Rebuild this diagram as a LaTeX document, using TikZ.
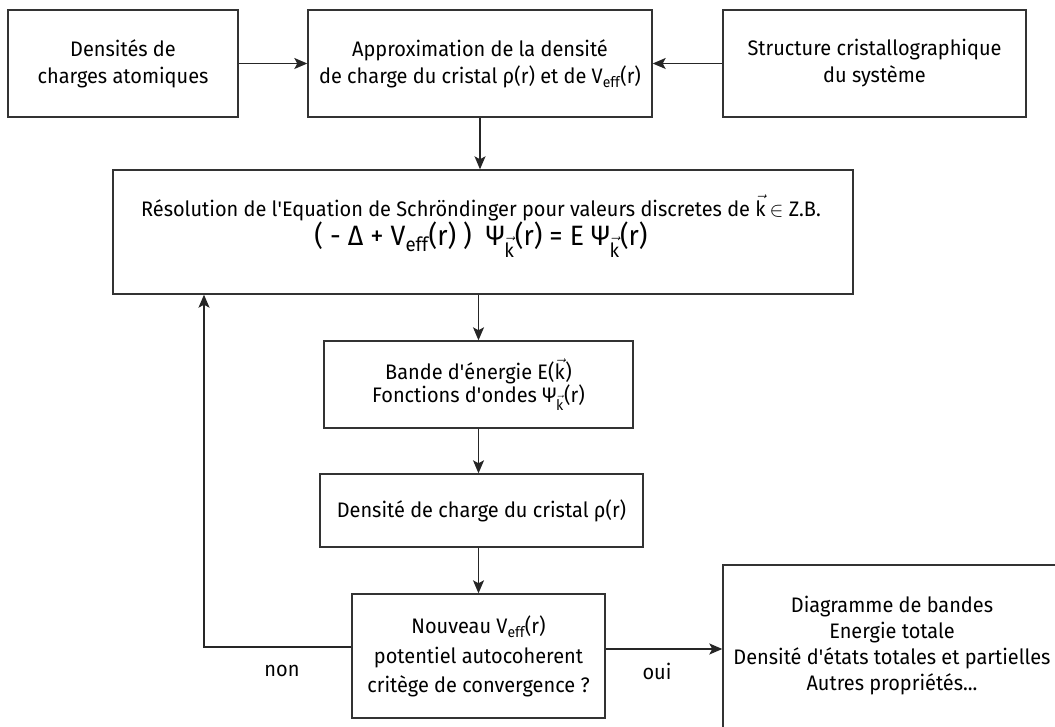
\documentclass[tikz,border=0pt]{standalone}
\usepackage{fontspec}
\setmainfont{Fira Sans}[FakeStretch=0.95]
\usetikzlibrary{arrows.meta}
\newcommand{\veck}{\ensuremath{\vec{\mathrm{k}}}}
\newcommand{\Veff}{V\textsubscript{eff}}
\newcommand{\apo}{\textquotesingle}
\begin{document}
\begin{tikzpicture}[x=1pt,y=-1pt,
  box/.style n args={2}{draw=black!80, line width=1.4pt, minimum width=#1, minimum height=#2, inner sep=0pt, align=center, font=\fontsize{21}{27}\selectfont},
  lbl/.style={font=\fontsize{21}{27}\selectfont, align=center},
  arr/.style={draw=black!85, line width=1.4pt, -{Stealth[length=13pt,width=11pt,inset=3pt]}}]
\useasboundingbox (0,0) rectangle (1055,727);
\node[box={230pt}{107pt}] (dens) at (123,63.5) {Densités de\\charges atomiques};
\node[box={344pt}{107pt}] (approx) at (480,63.5) {Approximation de la densité\\de charge du cristal ρ(r) et de \Veff(r)};
\node[box={303pt}{107pt}] (struct) at (874.5,63.5) {Structure cristallographique\\du système};
\node[box={740pt}{124pt}] (schro) at (483,232) {};
\node[lbl] (schrotext) at (481,226) {Résolution de l\apo Equation de Schröndinger pour valeurs discretes de \veck\,$\in$ Z.B.\\[0pt]
  {\fontsize{28}{31}\selectfont ( - Δ + \Veff(r) )\ \ Ψ\textsubscript{\veck}(r) = E Ψ\textsubscript{\veck}(r)}};
\node[box={309pt}{87pt}] (bande) at (478.5,384.5) {Bande d\apo énergie E(\veck)\\[-4pt]Fonctions d\apo ondes Ψ\textsubscript{\veck}(r)};
\node[box={323pt}{73pt}] (densc) at (481.5,510.5) {Densité de charge du cristal ρ(r)};
\node[box={253pt}{124pt}] (nouv) at (478.5,656) {Nouveau \Veff(r)\\[3pt]potentiel autocoherent\\[2pt]critège de convergence ?};
\node[box={342pt}{180pt}] (res) at (894,655) {};
\node[lbl] (restext) at (892,646) {Diagramme de bandes\\[-1pt]Energie totale\\[-1pt]Densité d\apo états totales et partielles\\[-1pt]Autres propriétés...};
\coordinate (lc) at (204,647);
\node[lbl] (non) at (282,671) {non};
\node[lbl] (oui) at (657,671) {oui};
\draw[arr] (dens.east) -- (approx.west);
\draw[arr] (struct.west) -- (approx.west -| approx.east);
\draw[arr] (approx.south) -- (approx.south |- schro.north);
\draw[arr] (schro.south -| bande.north) -- (bande.north);
\draw[arr] (bande.south) -- (bande.south |- densc.north);
\draw[arr] (densc.south -| nouv.north) -- (nouv.north);
\draw[arr] ([yshift=7pt]nouv.east) -- ([yshift=7pt]nouv.east -| res.west);
\draw[arr] ([yshift=9pt]nouv.west) -- (lc) -- (lc |- schro.south);
\end{tikzpicture}
\end{document}
